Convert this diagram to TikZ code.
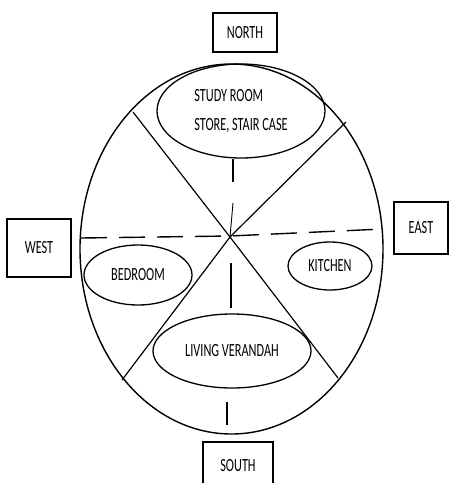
\documentclass[tikz,border=0pt]{standalone}
\usepackage{fontspec}
\newfontfamily\lbl[FakeStretch=0.66]{Carlito}
\usetikzlibrary{shapes.geometric}
\begin{document}
\begin{tikzpicture}[x=1pt,y=-1pt,
  every node/.style={font=\lbl\fontsize{18.6}{22}\selectfont},
  room/.style={draw, ellipse, line width=1.3pt, inner sep=0pt},
  dirbox/.style={draw, rectangle, line width=1.3pt, inner sep=0pt},
  wall/.style={line width=1.2pt},
  divider/.style={line width=1.4pt, dash pattern=on 26pt off 12pt},
  tick/.style={line width=1.2pt}]
\useasboundingbox[fill=white] (0,0) rectangle (450,483);
% outer plot
\node[draw, ellipse, line width=1.4pt, minimum width=303, minimum height=370, inner sep=0pt] (plot) at (231.5,249) {};
% crossing points
\coordinate (c) at (230,237);
\coordinate (ul) at (133,112);
\coordinate (ur) at (346,122);
\coordinate (ll) at (122,380);
\coordinate (lr) at (338,378);
\coordinate (wl) at (81,238);
\coordinate (wm) at (230,236);
\coordinate (er) at (383,229);
% rooms
\node[room, minimum width=168, minimum height=94, align=left] (study) at (241,111) {STUDY ROOM\\[7pt]STORE, STAIR CASE};
\node[room, minimum width=108, minimum height=60] (bed) at (138,275) {BEDROOM};
\node[room, minimum width=84, minimum height=48] (kit) at (330,266) {KITCHEN};
\node[room, minimum width=158, minimum height=74] (liv) at (232,351) {LIVING VERANDAH};
% direction boxes
\node[dirbox, minimum width=64, minimum height=39] (north) at (245,32.5) {NORTH};
\node[dirbox, minimum width=64, minimum height=58] (west) at (39,248) {WEST};
\node[dirbox, minimum width=54, minimum height=52] (east) at (421,228) {EAST};
\node[dirbox, minimum width=70, minimum height=48] (south) at (238,466) {SOUTH};
% diagonals
\draw[wall] (ul) -- (c) -- (lr);
\draw[wall] (ur) -- (c) -- (ll);
% dashed east-west line
\draw[divider] (wl) -- (wm) -- (er);
% ticks
\coordinate (t1) at (233,182);
\coordinate (t2) at (233,203);
\coordinate (t3) at (231,263);
\coordinate (t4) at (231,308);
\coordinate (t5) at (227,402);
\coordinate (t6) at (227,425);
\draw[tick] (t1 |- study.south) -- (t1);
\draw[tick, line width=0.9pt] (t2) -- (c);
\draw[tick] (t3) -- (t4);
\draw[tick] (t5) -- (t6);
\end{tikzpicture}
\end{document}
